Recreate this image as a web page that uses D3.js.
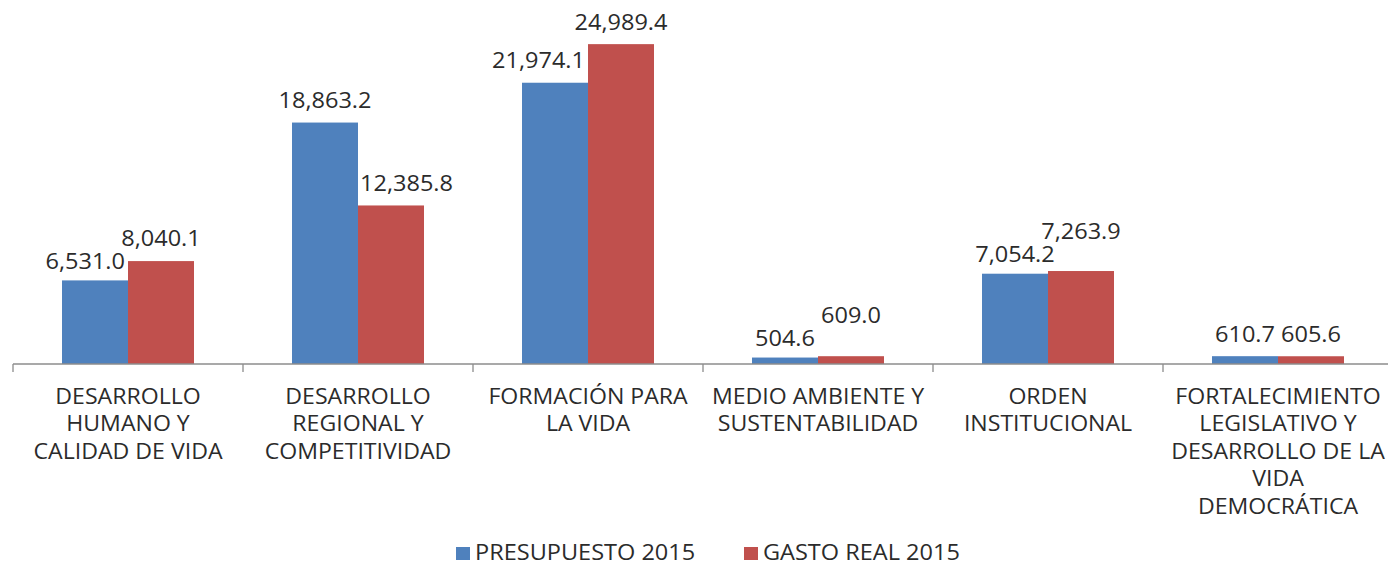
<!DOCTYPE html>
<html>
<head>
<meta charset="utf-8">
<script src="https://cdn.jsdelivr.net/npm/d3@7"></script>
<style>
  body { margin: 0; background: #fff; }
  svg { display: block; }
  text { font-family: "Open Sans", Lato, sans-serif; fill: #2b2b2b; }
</style>
</head>
<body>
<svg width="1388" height="567"></svg>
<script>
// data
var categories = [
  "DESARROLLO\nHUMANO Y\nCALIDAD DE VIDA",
  "DESARROLLO\nREGIONAL Y\nCOMPETITIVIDAD",
  "FORMACIÓN PARA\nLA VIDA",
  "MEDIO AMBIENTE Y\nSUSTENTABILIDAD",
  "ORDEN\nINSTITUCIONAL",
  "FORTALECIMIENTO\nLEGISLATIVO Y\nDESARROLLO DE LA\nVIDA\nDEMOCRÁTICA"
];
var presupuesto = [6531.0, 18863.2, 21974.1, 504.6, 7054.2, 610.7];
var gastoReal = [8040.1, 12385.8, 24989.4, 609.0, 7263.9, 605.6];
var seriesNames = ["PRESUPUESTO 2015", "GASTO REAL 2015"];
var colors = ["#4F81BD", "#C0504D"];

var svg = d3.select("svg"),
  margin = {top: 44, left: 13, right: -5, bottom: 203},
  width = +svg.attr("width") - margin.left - margin.right,
  height = +svg.attr("height") - margin.top - margin.bottom,
  g = svg.append("g").attr("transform", "translate(" + margin.left + "," + margin.top + ")");

var x0 = d3.scaleBand().domain(d3.range(categories.length)).range([0, width]);
var x1 = d3.scaleBand().domain([0, 1]).range([49, x0.bandwidth() - 49]);
var y = d3.scaleLinear().domain([0, 25000]).range([height, 0]);

var data = categories.map(function(c, i) {
  return {i: i, name: c, values: [presupuesto[i], gastoReal[i]]};
});

// the original text is a bit wider than Open Sans
function stretch(sel, f) {
  sel.each(function() {
    var l = this.getComputedTextLength();
    d3.select(this).attr("textLength", l * f).attr("lengthAdjust", "spacingAndGlyphs");
  });
}

// bars
var grp = g.selectAll(".cat")
  .data(data)
  .enter().append("g")
    .attr("class", "cat")
    .attr("transform", function(d) { return "translate(" + x0(d.i) + ",0)"; });

grp.selectAll("rect")
  .data(function(d) { return d.values.map(function(v, k) { return {k: k, v: v}; }); })
  .enter().append("rect")
    .attr("x", function(d) { return x1(d.k); })
    .attr("width", x1.bandwidth())
    .attr("y", function(d) { return y(d.v); })
    .attr("height", function(d) { return height - y(d.v); })
    .attr("fill", function(d) { return colors[d.k]; });

// value labels, moved like excel does when they would collide
var fmt = d3.format(",.1f");
grp.each(function(d) {
  var sel = d3.select(this).selectAll(".val")
    .data(d.values)
    .enter().append("text")
      .attr("class", "val")
      .attr("text-anchor", "middle")
      .attr("dy", "0.35em")
      .style("font-size", "21px")
      .text(function(v) { return fmt(v); });
  var w = [], ys = [], xs = [];
  sel.each(function(v, k) {
    w[k] = this.getComputedTextLength() * 1.12;
    ys[k] = y(v) - 22;
    xs[k] = x1(k) + x1.bandwidth() / 2;
  });
  // blue label lower and too close to the red one: drop it, lift the red one
  if (d.values[0] < d.values[1] && (w[0] + w[1]) / 2 + 8 > x1.step() && Math.abs(ys[0] - ys[1]) < 27) {
    ys[0] = y(d.values[0]) - 19;
    ys[1] = Math.min(ys[1], ys[0] - 23);
  }
  // a label running into the neighbouring taller bar is pushed sideways
  [0, 1].forEach(function(k) {
    var o = 1 - k;
    if (ys[k] + 7 <= y(d.values[o])) return;
    if (k == 0 && xs[0] + w[0] / 2 > x1(1)) xs[0] = x1(1) - 3 - w[0] / 2;
    if (k == 1 && xs[1] - w[1] / 2 < x1(1)) xs[1] = x1(1) + 2 + w[1] / 2;
  });
  sel.attr("x", function(v, k) { return xs[k]; })
     .attr("y", function(v, k) { return ys[k]; });
  stretch(sel, 1.12);
});

// axis
var axis = g.append("g")
  .attr("transform", "translate(0," + height + ")");
axis.append("line")
  .attr("x1", 0).attr("x2", width)
  .attr("stroke", "#8c8c8c").attr("stroke-width", 1.3);
axis.selectAll(".tick")
  .data(d3.range(categories.length + 1))
  .enter().append("line")
    .attr("x1", function(i) { return i * x0.step(); })
    .attr("x2", function(i) { return i * x0.step(); })
    .attr("y1", 0).attr("y2", 8)
    .attr("stroke", "#8c8c8c").attr("stroke-width", 1.3);

axis.selectAll(".lbl")
  .data(data)
  .enter().append("text")
    .attr("class", "lbl")
    .attr("text-anchor", "middle")
    .style("font-size", "22px")
    .attr("transform", function(d) { return "translate(" + (x0(d.i) + x0.bandwidth() / 2) + ",32)"; })
    .each(function(d) {
      var t = d3.select(this);
      d.name.split("\n").forEach(function(line, j) {
        t.append("tspan").attr("x", 0).attr("y", j * 27.5).attr("dy", "0.35em").text(line);
      });
    });
stretch(axis.selectAll(".lbl tspan"), 1.05);

// legend
var legend = svg.append("g").attr("transform", "translate(456,553)");
var lx = [0, 288];
seriesNames.forEach(function(s, k) {
  legend.append("rect").attr("x", lx[k]).attr("y", -6).attr("width", 14).attr("height", 13).attr("fill", colors[k]);
  legend.append("text").attr("x", lx[k] + 19).attr("y", 0).attr("dy", "0.35em")
    .style("font-size", "21px").text(s);
});
stretch(legend.selectAll("text"), 1.12);
</script>
</body>
</html>
